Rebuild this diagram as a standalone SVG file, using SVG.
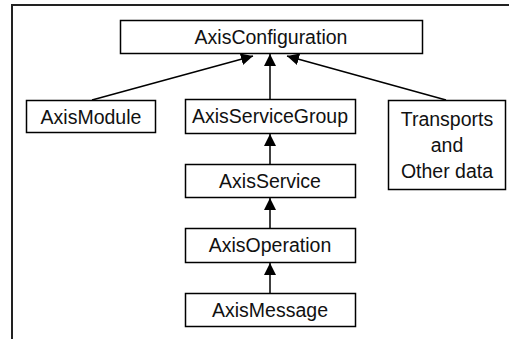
<svg xmlns="http://www.w3.org/2000/svg" width="509" height="339" viewBox="0 0 509 339">
<defs>
<marker id="ah" markerWidth="12" markerHeight="12" refX="12" refY="6" orient="auto" markerUnits="userSpaceOnUse">
<path d="M0,0 L12,6 L0,12 Z" fill="#000"/>
</marker>
<style>
.box{fill:#fff;stroke:#000;stroke-width:1.5}
.t{font-family:"Liberation Sans",Arial,sans-serif;font-size:19.5px;fill:#111;text-anchor:middle}
.c{stroke:#000;stroke-width:1.5;fill:none;marker-end:url(#ah)}
</style>
</defs>
<rect width="509" height="339" fill="#fff"/>
<path d="M12,339 L12,5 L509,5" fill="none" stroke="#222" stroke-width="2"/>
<g id="connectors">
<line class="c" x1="92" y1="100" x2="253" y2="56"/>
<line class="c" x1="270" y1="99" x2="270" y2="54"/>
<line class="c" x1="446" y1="100" x2="287" y2="56"/>
<line class="c" x1="270" y1="164" x2="270" y2="134"/>
<line class="c" x1="270" y1="228" x2="270" y2="198"/>
<line class="c" x1="270" y1="293" x2="270" y2="263"/>
</g>
<g id="AxisConfiguration">
<rect class="box" x="120.5" y="20.5" width="302" height="33"/>
<text class="t" x="271" y="44">AxisConfiguration</text>
</g>
<g id="AxisModule">
<rect class="box" x="26.5" y="100.5" width="129" height="32"/>
<text class="t" x="91" y="123.5">AxisModule</text>
</g>
<g id="AxisServiceGroup">
<rect class="box" x="185.5" y="99.5" width="170" height="34"/>
<text class="t" x="270" y="123">AxisServiceGroup</text>
</g>
<g id="Transports">
<rect class="box" x="388.5" y="100.5" width="117" height="89"/>
<text class="t" x="447" y="126">Transports</text>
<text class="t" x="447" y="152">and</text>
<text class="t" x="447" y="178">Other data</text>
</g>
<g id="AxisService">
<rect class="box" x="185.5" y="164.5" width="170" height="33"/>
<text class="t" x="270" y="188">AxisService</text>
</g>
<g id="AxisOperation">
<rect class="box" x="185.5" y="228.5" width="170" height="34"/>
<text class="t" x="270" y="252">AxisOperation</text>
</g>
<g id="AxisMessage">
<rect class="box" x="185.5" y="293.5" width="170" height="33"/>
<text class="t" x="270" y="317">AxisMessage</text>
</g>
</svg>
